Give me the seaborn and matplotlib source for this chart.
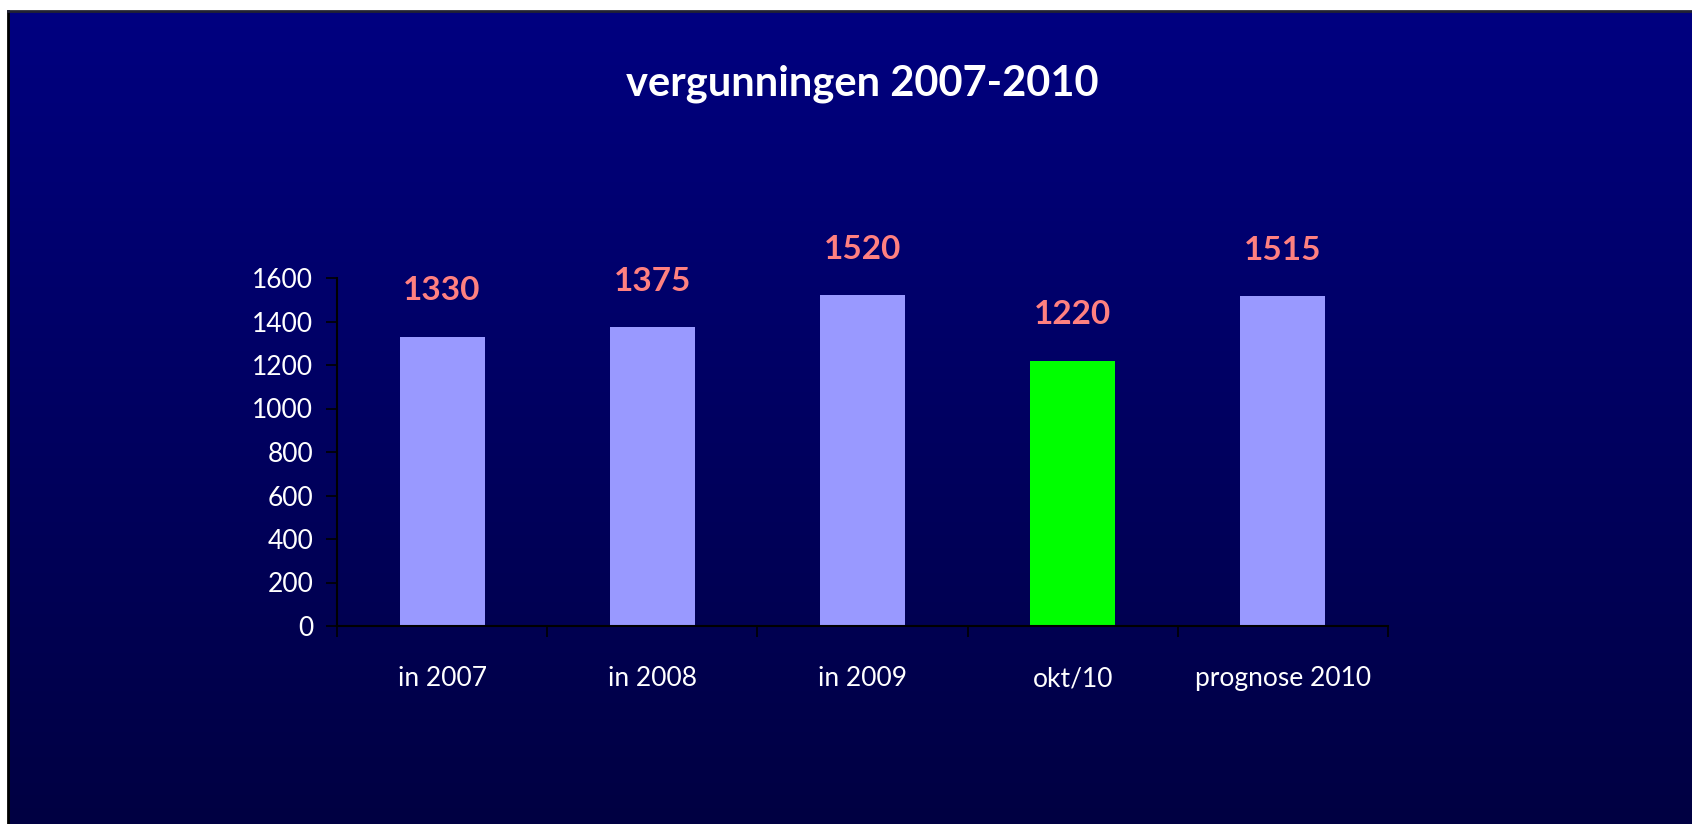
import numpy as np
import matplotlib
matplotlib.use("Agg")
import matplotlib.pyplot as plt
import seaborn as sns
from matplotlib.colors import LinearSegmentedColormap

categories = ["in 2007", "in 2008", "in 2009", "okt/10", "prognose 2010"]
values = [1330, 1375, 1520, 1220, 1515]
bar_colors = ["#9999FF", "#9999FF", "#9999FF", "#00FF00", "#9999FF"]
yticks = [0, 200, 400, 600, 800, 1000, 1200, 1400, 1600]
title = "vergunningen 2007-2010"

sns.set_theme(style="white")
plt.rcParams["font.family"] = ["Lato", "DejaVu Sans"]

W, H = 1692, 824
fig = plt.figure(figsize=(W / 100, H / 100), dpi=100)
fig.patch.set_facecolor("white")

# background panel with vertical gradient
x0, y0 = 8 / W, 0.0
bg = fig.add_axes([x0, y0, 1 - x0, 1 - 11 / H - y0])
grad = np.linspace(0, 1, 256).reshape(-1, 1)
cmap = LinearSegmentedColormap.from_list("bg", ["#000080", "#000042"])
bg.imshow(grad, aspect="auto", cmap=cmap, extent=[0, 1, 0, 1], origin="upper")
bg.set_xticks([]); bg.set_yticks([])
for s in ["right", "bottom"]:
    bg.spines[s].set_visible(False)
bg.spines["top"].set_color("#222233"); bg.spines["top"].set_linewidth(2)
bg.spines["left"].set_color("#000000"); bg.spines["left"].set_linewidth(2)

ax = fig.add_axes([337 / W, 1 - 626 / H, (1388 - 337) / W, (626 - 278) / H])
ax.patch.set_alpha(0)
sns.barplot(x=categories, y=values, hue=categories, palette=bar_colors,
            legend=False, width=0.405, saturation=1, linewidth=0,
            edgecolor="none", ax=ax)
ax.set_ylim(0, 1600)
ax.set_xlim(-0.5, len(categories) - 0.5)
ax.set_yticks(yticks)
ax.set_yticklabels([str(t) for t in yticks])
ax.set_xlabel(""); ax.set_ylabel("")
for s in ["top", "right"]:
    ax.spines[s].set_visible(False)
for s in ["left", "bottom"]:
    ax.spines[s].set_color("black"); ax.spines[s].set_linewidth(1.5)
ax.tick_params(axis="y", which="major", direction="out", length=8, width=1.2,
               color="black", labelcolor="white", labelsize=19, pad=9, left=True)
ax.tick_params(axis="x", which="major", length=0, labelcolor="white",
               labelsize=19, pad=29, bottom=True)
ax.set_xticks(np.arange(-0.5, len(categories) + 0.5, 1), minor=True)
ax.tick_params(axis="x", which="minor", direction="out", length=8, width=1.2,
               color="black", bottom=True)

for i, v in enumerate(values):
    ax.annotate(str(v), (i, v), xytext=(0, 33), textcoords="offset points",
                ha="center", va="center", color="#FF8080", fontsize=24,
                fontweight="bold")

fig.text((337 + 1388) / 2 / W, 1 - 84 / H, title, ha="center", va="center",
         color="white", fontsize=30, fontweight="bold")

fig.savefig("out.png", dpi=100, facecolor=fig.get_facecolor())
